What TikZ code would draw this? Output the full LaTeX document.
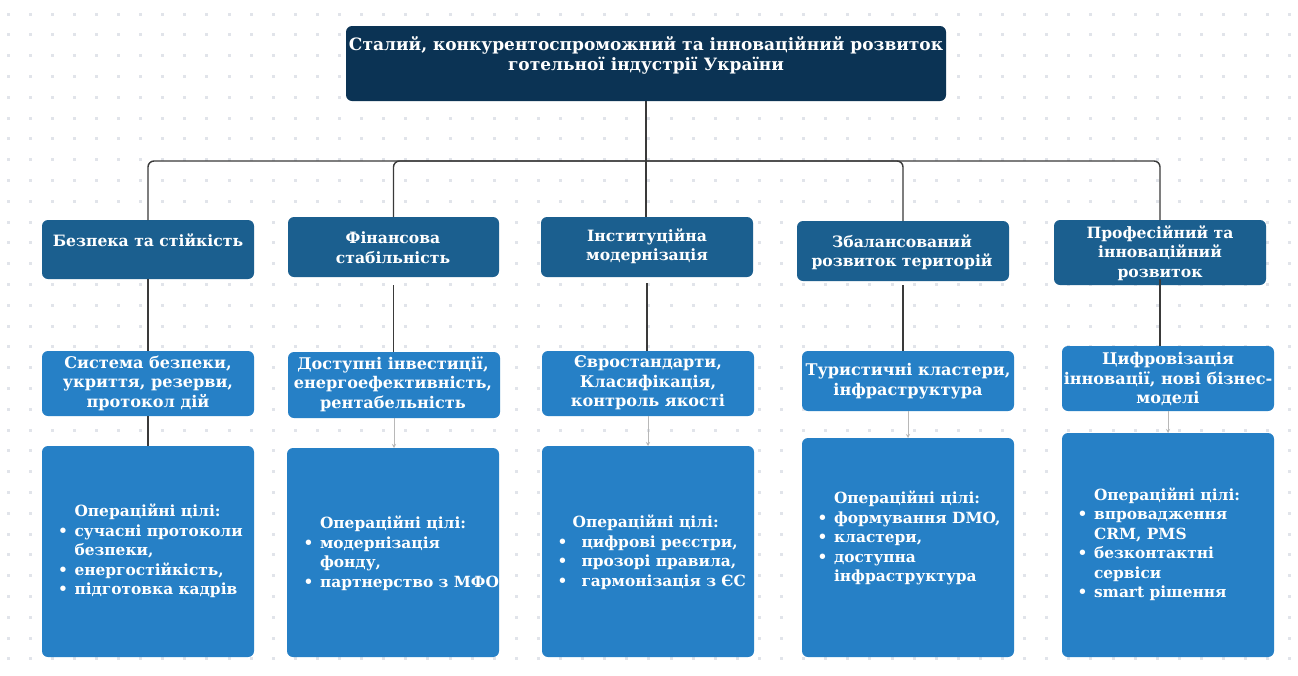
\documentclass[tikz,border=0pt]{standalone}
\usepackage{fontspec}
\setmainfont{DejaVu Serif}
\usetikzlibrary{arrows.meta}
\definecolor{navy}{HTML}{0B3354}
\definecolor{midblue}{HTML}{1B5F8F}
\definecolor{lightblue}{HTML}{2680C6}
\definecolor{dotc}{HTML}{E1E4EA}
\definecolor{linec}{HTML}{3A3A3A}
\definecolor{linel}{HTML}{B8B8B8}
\newcommand\bx[6]{\node[#1, minimum width={#4-#2}, minimum height={#5-#3}] (#6) at ({(#2+#4)/2},{(#3+#5)/2}) {};}
\newcommand\bl{\textbullet}
\tikzset{
  box/.style={rounded corners=6pt, inner sep=0pt, outer sep=0pt},
  topbox/.style={box, fill=navy},
  lonebox/.style={box, fill=midblue},
  ltwobox/.style={box, fill=lightblue},
  lthreebox/.style={box, fill=lightblue},
  txt/.style={text=white, font=\bfseries\fontsize{15.6}{19.5}\selectfont, align=center, inner sep=0pt},
  txtb/.style={txt, font=\bfseries\fontsize{16.1}{19.5}\selectfont},
  titletxt/.style={txt, font=\bfseries\fontsize{17}{20}\selectfont},
  listtxt/.style={txt, font=\bfseries\fontsize{15.4}{19.5}\selectfont, anchor=west, align=left},
  conn/.style={draw=linec, line width=1.4pt},
  connl/.style={draw=linel, line width=1pt, -{Stealth[length=4pt,width=4pt]}},
}
\begin{document}
\begin{tikzpicture}[x=1pt,y=-1pt]
\useasboundingbox (0,0) rectangle (1298,675);
\fill[white] (0,0) rectangle (1298,675);
\foreach \i in {0,...,58}{\foreach \j in {0,...,31}{\fill[dotc] ({8+22.1*\i-1.5},{14+20.8*\j-1.5}) rectangle ++(3,3);}}

% boxes
\bx{topbox}{346}{26}{946}{101}{top}
\bx{lonebox}{42}{220}{254}{279}{a1}
\bx{lonebox}{288}{217}{499}{277}{a2}
\bx{lonebox}{541}{217}{753}{277}{a3}
\bx{lonebox}{797}{221}{1009}{281}{a4}
\bx{lonebox}{1054}{220}{1266}{285}{a5}
\bx{ltwobox}{42}{351}{254}{416}{b1}
\bx{ltwobox}{288}{352}{500}{418}{b2}
\bx{ltwobox}{542}{351}{754}{416}{b3}
\bx{ltwobox}{802}{351}{1014}{411}{b4}
\bx{ltwobox}{1062}{346}{1274}{411}{b5}
\bx{lthreebox}{42}{446}{254}{657}{c1}
\bx{lthreebox}{287}{448}{499}{657}{c2}
\bx{lthreebox}{542}{446}{754}{657}{c3}
\bx{lthreebox}{802}{438}{1014}{657}{c4}
\bx{lthreebox}{1062}{433}{1274}{657}{c5}

% connectors
\coordinate (bus) at (646,161);
\draw[conn] (top.south) -- (bus);
\draw[conn, rounded corners=6pt] (bus) -| (a1.north);
\draw[conn, rounded corners=6pt] (bus) -| (a2.north);
\draw[conn] (bus) -- (bus |- a3.north);
\draw[conn, rounded corners=6pt] (bus) -| (a4.north);
\draw[conn, rounded corners=6pt] (bus) -| (a5.north);
\draw[conn] (a1.south) -- (b1.north);
\draw[conn, shorten <=8pt] (a2.south) -- (a2.south |- b2.north);
\draw[conn, shorten <=6pt] (a3.south) -- (a3.south |- b3.north);
\draw[conn, shorten <=4pt] (a4.south) -- (a4.south |- b4.north);
\draw[conn] ([yshift=6pt]a5.south) -- (a5.south |- b5.north);
\draw[conn] (b1.south) -- (c1.north);
\draw[connl] (b2.south) -- (b2.south |- c2.north);
\draw[connl] (b3.south) -- (b3.south |- c3.north);
\draw[connl] (b4.south) -- (b4.south |- c4.north);
\draw[connl] (b5.south) -- (b5.south |- c5.north);

% texts
\node[titletxt] (ttop) at (646,55) {Сталий, конкурентоспроможний та інноваційний розвиток\\готельної індустрії України};
\node[txt] (ta1) at (148,240) {Безпека та стійкість};
\node[txt] (ta2) at (393,247.5) {Фінансова\\стабільність};
\node[txt] (ta3) at (647,246) {Інституційна\\модернізація};
\node[txt] (ta4) at (902,252) {Збалансований\\розвиток територій};
\node[txt] (ta5) at (1160,253) {Професійний та\\інноваційний\\розвиток};
\node[txtb] (tb1) at (148,383) {Система безпеки,\\укриття, резерви,\\протокол дій};
\node[txtb] (tb2) at (393,384) {Доступні інвестиції,\\енергоефективність,\\рентабельність};
\node[txtb] (tb3) at (648,383) {Євростандарти,\\Класифікація,\\контроль якості};
\node[txtb] (tb4) at (908,381) {Туристичні кластери,\\інфраструктура};
\node[txtb] (tb5) at (1168,379) {Цифровізація\\інновації, нові бізнес-\\моделі};

\node[listtxt] (tc1) at (58,552) {\begin{tabular}{@{}l@{\hspace{6.5pt}}l@{}}
 & Операційні цілі:\\
\bl & сучасні протоколи\\
 & безпеки,\\
\bl & енергостійкість,\\
\bl & підготовка кадрів
\end{tabular}};
\node[listtxt] (tc2) at (303.5,554) {\begin{tabular}{@{}l@{\hspace{6.5pt}}l@{}}
 & Операційні цілі:\\
\bl & модернізація\\
 & фонду,\\
\bl & партнерство з МФО
\end{tabular}};
\node[listtxt] (tc3) at (557.5,553) {\begin{tabular}{@{}l@{\hspace{14pt}}l@{}}
\multicolumn{2}{@{\hspace{15pt}}l@{}}{Операційні цілі:}\\
\bl & цифрові реєстри,\\
\bl & прозорі правила,\\
\bl & гармонізація з ЄС
\end{tabular}};
\node[listtxt] (tc4) at (817.5,539) {\begin{tabular}{@{}l@{\hspace{6.5pt}}l@{}}
 & Операційні цілі:\\
\bl & формування DMO,\\
\bl & кластери,\\
\bl & доступна\\
 & інфраструктура
\end{tabular}};
\node[listtxt] (tc5) at (1077.5,545) {\begin{tabular}{@{}l@{\hspace{6.5pt}}l@{}}
 & Операційні цілі:\\
\bl & впровадження\\
 & CRM, PMS\\
\bl & безконтактні\\
 & сервіси\\
\bl & smart рішення
\end{tabular}};
\end{tikzpicture}
\end{document}
